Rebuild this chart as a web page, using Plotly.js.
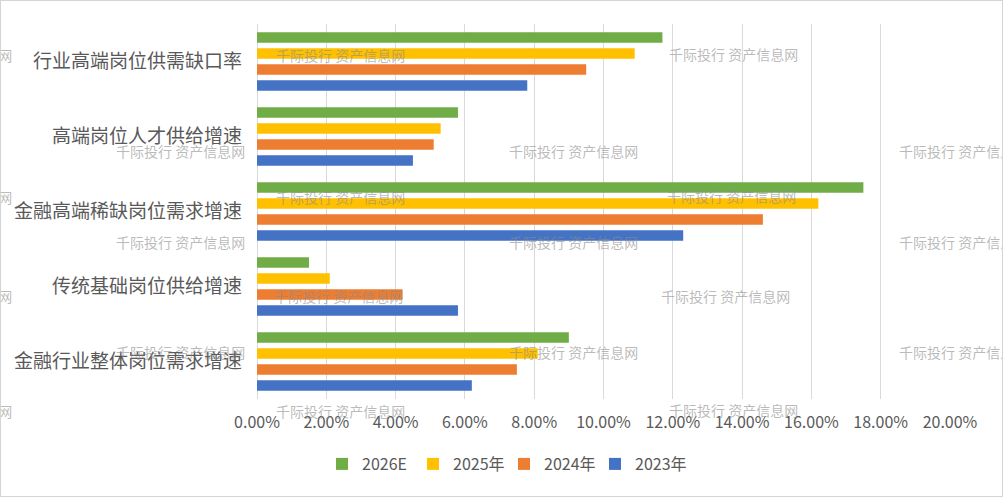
<!DOCTYPE html>
<html>
<head>
<meta charset="utf-8">
<script src="https://cdn.plot.ly/plotly-3.0.1.min.js"></script>
<style>
  html, body { margin: 0; padding: 0; background: #fff; }
  #chart { width: 1003px; height: 497px; }
  #frame { position: absolute; left: 0; top: 0; width: 1001px; height: 495px; border: 1px solid #d4d4d4; pointer-events: none; }
</style>
</head>
<body>
<div id="chart"></div>
<div id="frame"></div>
<script>
// Categories, listed bottom-to-top as Plotly draws them
const categories = [
  "金融行业整体岗位需求增速",
  "传统基础岗位供给增速",
  "金融高端稀缺岗位需求增速",
  "高端岗位人才供给增速",
  "行业高端岗位供需缺口率"
];
const values2023 = [0.062, 0.058, 0.123, 0.045, 0.078];
const values2024 = [0.075, 0.042, 0.146, 0.051, 0.095];
const values2025 = [0.081, 0.021, 0.162, 0.053, 0.109];
const values2026E = [0.090, 0.015, 0.175, 0.058, 0.117];
const seriesNames = ["2023年", "2024年", "2025年", "2026E"];
const tickValues = [0, 0.02, 0.04, 0.06, 0.08, 0.10, 0.12, 0.14, 0.16, 0.18, 0.20];
const watermarkText = "千际投行 资产信息网";

const colors = ["#4472C4", "#ED7D31", "#FFC000", "#70AD47"];
const seriesValues = [values2023, values2024, values2025, values2026E];

const traces = seriesValues.map((vals, i) => ({
  type: "bar",
  orientation: "h",
  name: seriesNames[i],
  y: categories,
  x: vals,
  marker: { color: colors[i] },
  hoverinfo: "x+name"
}));

// plot area in pixels
const L = 257, R = 950, T = 24, B = 399;
const W = 1003, H = 497;
const px = x => (x - L) / (R - L);
const py = y => (B - y) / (B - T);

const wmPositions = [
  [-53, 55], [340, 55], [733, 54],
  [180, 151], [573, 151], [963, 151],
  [-53, 197], [340, 197], [731, 196],
  [180, 242], [573, 242], [963, 242],
  [-53, 296], [338, 296], [725, 296],
  [180, 352], [573, 352], [963, 352],
  [-53, 411], [340, 411], [733, 410]
];
const annotations = wmPositions.map(p => ({
  text: watermarkText,
  xref: "paper", yref: "paper",
  x: px(p[0]), y: py(p[1]),
  xanchor: "center", yanchor: "middle",
  showarrow: false,
  font: { family: "Noto Sans CJK SC", size: 14, color: "rgba(140,140,140,0.6)" }
}));

const layout = {
  width: W, height: H,
  margin: { l: L, r: W - R, t: T, b: H - B, pad: 0 },
  paper_bgcolor: "#ffffff",
  plot_bgcolor: "#ffffff",
  barmode: "group",
  bargap: 0.147,
  bargroupgap: 0.33,
  font: { family: "Noto Sans CJK SC", color: "#595959" },
  xaxis: {
    range: [0, 0.2],
    tickvals: tickValues,
    tickformat: ".2%",
    showgrid: true,
    gridcolor: "#d9d9d9",
    gridwidth: 1,
    zeroline: true,
    zerolinecolor: "#d9d9d9",
    showline: false,
    ticks: "",
    ticklabelstandoff: 12,
    tickfont: { family: "Noto Sans CJK SC", size: 16, color: "#595959" },
    fixedrange: true
  },
  yaxis: {
    type: "category",
    categoryorder: "array",
    categoryarray: categories,
    showgrid: false,
    zeroline: false,
    showline: false,
    ticks: "",
    ticklabelstandoff: 14,
    tickfont: { family: "Noto Sans CJK SC", size: 19, color: "#595959" },
    fixedrange: true
  },
  showlegend: true,
  legend: {
    orientation: "h",
    traceorder: "reversed",
    x: px(322), xanchor: "left",
    y: py(464), yanchor: "middle",
    entrywidth: 46,
    font: { family: "Noto Sans CJK SC", size: 16, color: "#595959" },
    bgcolor: "rgba(0,0,0,0)"
  },
  annotations: annotations
};

Plotly.newPlot("chart", traces, layout, { displayModeBar: false, staticPlot: true });
</script>
</body>
</html>
